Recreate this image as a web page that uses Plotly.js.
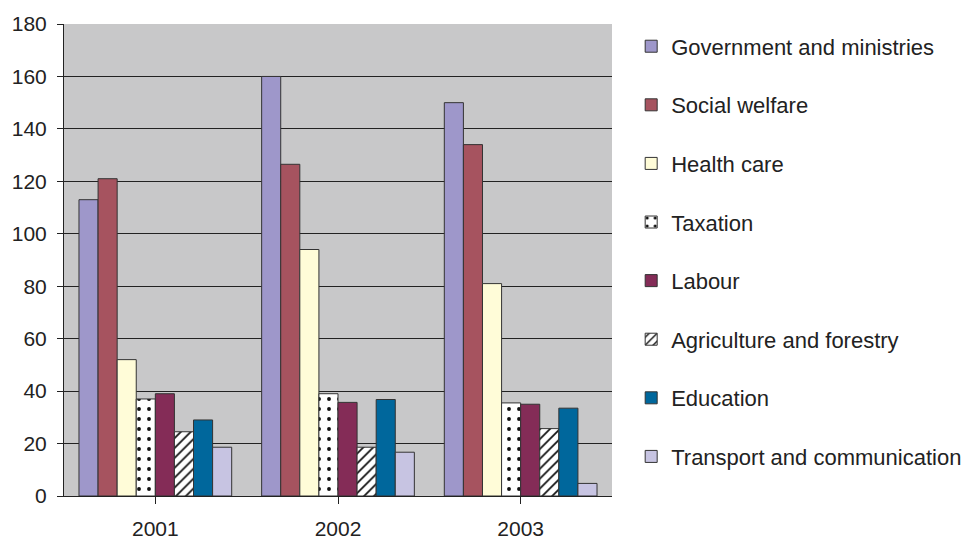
<!DOCTYPE html>
<html>
<head>
<meta charset="utf-8">
<script src="https://cdn.plot.ly/plotly-3.0.1.min.js"></script>
<style>html,body{margin:0;padding:0;background:#fff;}#chart{width:974px;height:539px;}</style>
</head>
<body>
<div id="chart"></div>
<script>
const years = ['2001', '2002', '2003'];
const seriesNames = ['Government and ministries', 'Social welfare', 'Health care', 'Taxation', 'Labour', 'Agriculture and forestry', 'Education', 'Transport and communication'];
const government = [113, 160, 150];
const socialWelfare = [121, 126.5, 134];
const healthCare = [52, 94, 81];
const taxation = [37, 39, 35.5];
const labour = [39, 35.7, 35];
const agriculture = [24.5, 18.6, 25.7];
const education = [29, 36.8, 33.5];
const transport = [18.6, 16.7, 4.8];

const values = [government, socialWelfare, healthCare, taxation, labour, agriculture, education, transport];
const colors = ['#9E97CA', '#A6535F', '#FFFCD8', '#FFFFFF', '#842C57', '#FFFFFF', '#00679C', '#C7C4E2'];
const patterns = [null, null, null, '.', null, '/', null, null];
const patternSizes = [0, 0, 0, 10, 0, 7, 0, 0];
const patternSolidity = [0, 0, 0, 0.12, 0, 0.25, 0, 0];

const traces = seriesNames.map((name, i) => {
  const marker = {color: colors[i], line: {color: '#333333', width: 1}};
  if (patterns[i]) {
    marker.pattern = {shape: patterns[i], bgcolor: '#FFFFFF', fgcolor: '#111111', size: patternSizes[i], solidity: patternSolidity[i], fillmode: 'replace'};
  }
  return {type: 'bar', name: name, x: years, y: values[i], marker: marker, legendgroup: 'g' + i, hoverinfo: 'none'};
});

const layout = {
  width: 974, height: 539,
  margin: {l: 64, r: 362, t: 24, b: 43, autoexpand: false},
  paper_bgcolor: '#FFFFFF',
  plot_bgcolor: '#C8C8C9',
  barmode: 'group',
  bargap: 0.164,
  bargroupgap: 0,
  font: {family: 'Liberation Sans, Arial, sans-serif', color: '#222222', size: 21},
  xaxis: {
    showgrid: false, showline: true, linecolor: '#222222', linewidth: 1,
    ticks: 'outside', ticklen: 7, tickcolor: '#222222', tickson: 'boundaries',
    tickfont: {size: 21}, ticklabelstandoff: 7
  },
  yaxis: {
    range: [0, 180], dtick: 20, showgrid: true, gridcolor: '#222222', gridwidth: 1,
    showline: true, linecolor: '#222222', linewidth: 1,
    ticks: 'outside', ticklen: 6, tickcolor: '#222222', zeroline: false,
    tickfont: {size: 21}, ticklabelstandoff: 6
  },
  legend: {
    x: 1.035, y: 0.997, xanchor: 'left', yanchor: 'top',
    font: {size: 22, color: '#222222'},
    tracegroupgap: 27, traceorder: 'grouped',
    bgcolor: 'rgba(0,0,0,0)'
  },
  showlegend: true
};

Plotly.newPlot('chart', traces, layout, {staticPlot: true});
</script>
</body>
</html>
